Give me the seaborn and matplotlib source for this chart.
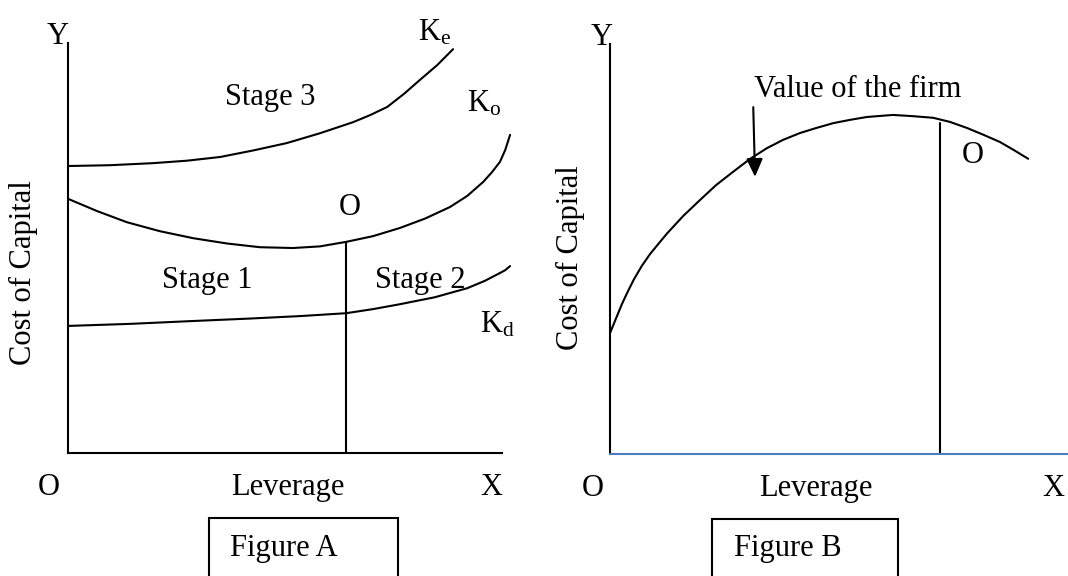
import matplotlib
matplotlib.use("Agg")
import matplotlib.pyplot as plt
from matplotlib.patches import Rectangle
import seaborn as sns
import numpy as np
import pandas as pd

# Figure A: cost of capital curves (leverage 0-10, cost 0-10)
ke_x = [0, 0.95, 1.92, 2.69, 3.44, 4.19, 4.95, 5.70, 6.45, 6.83, 7.22, 7.60, 7.96, 8.35, 8.71]
ke_y = [7.00, 7.02, 7.07, 7.13, 7.22, 7.38, 7.56, 7.80, 8.07, 8.24, 8.44, 8.76, 9.10, 9.46, 9.85]

ko_x = [0, 0.66, 1.33, 2.08, 2.83, 3.60, 4.34, 5.09, 5.70, 6.29, 6.90, 7.51, 8.08, 8.64,
        9.03, 9.39, 9.59, 9.77, 9.89, 10.0]
ko_y = [6.20, 5.90, 5.63, 5.41, 5.24, 5.11, 5.02, 5.00, 5.04, 5.15, 5.29, 5.49, 5.72, 6.00,
        6.27, 6.61, 6.85, 7.10, 7.39, 7.76]

kd_x = [0, 1.40, 2.83, 4.12, 5.25, 6.29, 6.90, 7.51, 8.30, 9.03, 9.43, 9.77, 9.89, 10.0]
kd_y = [3.10, 3.15, 3.22, 3.28, 3.34, 3.41, 3.51, 3.63, 3.80, 4.02, 4.20, 4.39, 4.46, 4.56]

optimum_a = 6.29

# Figure B: value of the firm
vf_x = [0, 0.14, 0.27, 0.41, 0.54, 0.72, 0.90, 1.09, 1.29, 1.65, 2.04, 2.40, 2.78, 3.17,
        3.55, 3.91, 4.30, 4.66, 5.05, 5.43, 5.81, 6.40, 6.85, 7.31, 7.69, 8.08, 8.46, 8.82,
        9.14, 9.46]
vf_y = [2.95, 3.32, 3.66, 3.98, 4.26, 4.59, 4.87, 5.12, 5.38, 5.80, 6.20, 6.56, 6.88, 7.20,
        7.46, 7.66, 7.83, 7.95, 8.07, 8.15, 8.22, 8.27, 8.24, 8.20, 8.10, 7.95, 7.78, 7.61,
        7.41, 7.20]

optimum_b = 7.47
optimum_b_top = 8.07

sns.set_style("white")
plt.rcParams["font.family"] = ["Liberation Serif", "DejaVu Serif"]
plt.rcParams["text.color"] = "black"
plt.rcParams["mathtext.fontset"] = "custom"
plt.rcParams["mathtext.rm"] = "Liberation Serif"
plt.rcParams["mathtext.it"] = "Liberation Serif:italic"
plt.rcParams["lines.solid_joinstyle"] = "round"

fs = 22
lw = 1.5

fig = plt.figure(figsize=(10.68, 5.76), dpi=100)
ax_a = fig.add_axes([0.0637, 0.2135, 0.4139, 0.7118])
ax_b = fig.add_axes([0.5712, 0.2118, 0.4288, 0.7118])

df_a = pd.concat([
    pd.DataFrame({"Leverage": ke_x, "Cost": ke_y, "curve": "Ke"}),
    pd.DataFrame({"Leverage": ko_x, "Cost": ko_y, "curve": "Ko"}),
    pd.DataFrame({"Leverage": kd_x, "Cost": kd_y, "curve": "Kd"}),
])
sns.lineplot(data=df_a, x="Leverage", y="Cost", units="curve", estimator=None,
             color="black", linewidth=lw, sort=False, ax=ax_a, clip_on=False)
ax_a.plot([optimum_a, optimum_a], [0, np.interp(optimum_a, ko_x, ko_y)],
          color="black", linewidth=lw)

df_b = pd.DataFrame({"Leverage": vf_x, "Value": vf_y})
sns.lineplot(data=df_b, x="Leverage", y="Value", color="black", linewidth=lw,
             sort=False, ax=ax_b, clip_on=False)
ax_b.plot([optimum_b, optimum_b], [0, optimum_b_top], color="black", linewidth=lw)

for ax, xmax in [(ax_a, 10), (ax_b, 10.36)]:
    ax.set_xlim(0, xmax)
    ax.set_ylim(0, 10)
    ax.set_xlabel("")
    ax.set_ylabel("")
    ax.set_xticks([])
    ax.set_yticks([])
    ax.patch.set_alpha(0)
    for s in ["top", "right"]:
        ax.spines[s].set_visible(False)
    ax.spines["left"].set_color("black")
    ax.spines["left"].set_linewidth(lw)
    ax.spines["bottom"].set_linewidth(lw)

ax_a.spines["bottom"].set_color("black")
ax_a.spines["bottom"].set_bounds(0, 9.82)
ax_b.spines["bottom"].set_color("#4a7ebb")

# Figure A labels
ax_a.text(-0.23, 10.15, "Y", fontsize=fs, ha="center", va="center")
ax_a.text(7.92, 10.07, r"$\mathrm{K_e}$", fontsize=fs, ha="left", va="baseline")
ax_a.text(9.03, 8.32, r"$\mathrm{K_o}$", fontsize=fs, ha="left", va="baseline")
ax_a.text(9.32, 2.93, r"$\mathrm{K_d}$", fontsize=fs, ha="left", va="baseline")
ax_a.text(4.57, 8.68, "Stage 3", fontsize=fs, ha="center", va="center")
ax_a.text(6.38, 5.98, "O", fontsize=fs, ha="center", va="center")
ax_a.text(3.14, 4.22, "Stage 1", fontsize=fs, ha="center", va="center")
ax_a.text(7.96, 4.22, "Stage 2", fontsize=fs, ha="center", va="center")
ax_a.text(-0.43, -0.85, "O", fontsize=fs, ha="center", va="center")
ax_a.text(4.98, -0.85, "Leverage", fontsize=fs, ha="center", va="center")
ax_a.text(9.57, -0.85, "X", fontsize=fs, ha="center", va="center")
ax_a.text(-1.0, 4.41, "Cost of Capital", fontsize=fs, ha="center", va="center",
          rotation=90)

# Figure B labels
ax_b.text(-0.18, 10.17, "Y", fontsize=fs, ha="center", va="center")
ax_b.text(-0.90, 4.78, "Cost of Capital", fontsize=fs, ha="center", va="center",
          rotation=90)
ax_b.text(5.61, 8.90, "Value of the firm", fontsize=fs, ha="center", va="center")
ax_b.annotate("", xy=(3.28, 6.76), xytext=(3.24, 8.46),
              arrowprops=dict(arrowstyle="-|>,head_length=1.1,head_width=0.5",
                              color="black", lw=lw, shrinkA=0, shrinkB=0))
ax_b.text(8.21, 7.29, "O", fontsize=fs, ha="center", va="center")
ax_b.text(-0.38, -0.83, "O", fontsize=fs, ha="center", va="center")
ax_b.text(4.66, -0.83, "Leverage", fontsize=fs, ha="center", va="center")
ax_b.text(10.02, -0.83, "X", fontsize=fs, ha="center", va="center")

# caption boxes
fig.patches.append(Rectangle((0.1957, -0.05), 0.177, 0.1507, transform=fig.transFigure,
                             fill=False, edgecolor="black", linewidth=lw))
fig.text(0.2154, 0.0486, "Figure A", fontsize=fs, ha="left", va="center")
fig.patches.append(Rectangle((0.6667, -0.05), 0.1742, 0.149, transform=fig.transFigure,
                             fill=False, edgecolor="black", linewidth=lw))
fig.text(0.6873, 0.0486, "Figure B", fontsize=fs, ha="left", va="center")

fig.savefig("out.png", dpi=100)
